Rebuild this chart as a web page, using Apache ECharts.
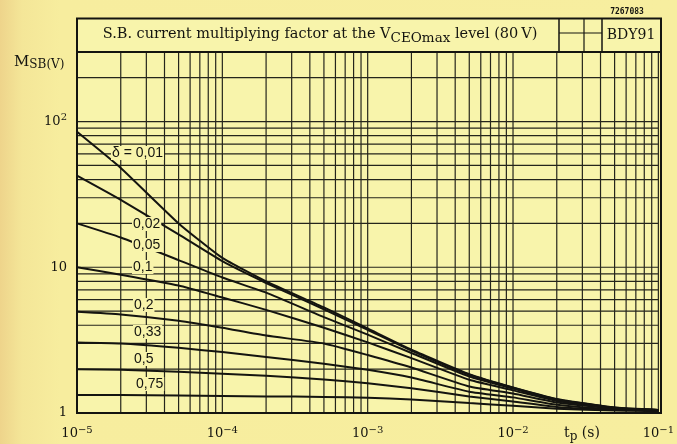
<!DOCTYPE html>
<html>
<head>
<meta charset="utf-8">
<script src="https://cdn.jsdelivr.net/npm/echarts@6/dist/echarts.min.js"></script>
<style>
html, body { margin: 0; padding: 0; }
body { background: linear-gradient(to right, #eed48b 0px, #f4e698 22px, #f7ed9e 60px, #f7ee9f 100%); }
#main { width: 677px; height: 444px; }
</style>
</head>
<body>
<div id="main"></div>
<script>
// pulse duration t_p (s)
var tp = [1e-5, 2e-5, 5e-5, 1e-4, 2e-4, 5e-4, 1e-3, 2e-3, 5e-3, 1e-2, 2e-2, 5e-2, 1e-1];

// M_SB(V) for each duty factor delta
var m001 = [85, 48, 20, 11.6, 8.0, 5.3, 3.8, 2.72, 1.85, 1.5, 1.25, 1.09, 1.05];
var m002 = [42.5, 29, 16.8, 11.0, 7.8, 5.15, 3.72, 2.68, 1.83, 1.49, 1.24, 1.09, 1.05];
var m005 = [20, 16, 11.2, 8.5, 6.7, 4.55, 3.45, 2.58, 1.78, 1.47, 1.23, 1.08, 1.05];
var m01 = [10, 8.9, 7.5, 6.2, 5.1, 3.85, 3.05, 2.38, 1.69, 1.43, 1.21, 1.08, 1.05];
var m02 = [4.95, 4.75, 4.3, 3.85, 3.4, 3.0, 2.5, 2.05, 1.52, 1.36, 1.18, 1.07, 1.05];
var m033 = [3.05, 3.0, 2.8, 2.62, 2.42, 2.18, 1.98, 1.75, 1.4, 1.28, 1.14, 1.06, 1.04];
var m05 = [2.0, 1.98, 1.92, 1.86, 1.8, 1.7, 1.6, 1.48, 1.3, 1.2, 1.1, 1.05, 1.04];
var m075 = [1.33, 1.33, 1.32, 1.31, 1.3, 1.29, 1.27, 1.24, 1.17, 1.12, 1.07, 1.04, 1.03];

var curves = [m001, m002, m005, m01, m02, m033, m05, m075];
var curveLabels = ['\u03b4 = 0,01', '0,02', '0,05', '0,1', '0,2', '0,33', '0,5', '0,75'];

// grid lines (log paper)
var mantissa = [1, 2, 3, 4, 5, 6, 7, 8, 9];
var xDecades = [-5, -4, -3, -2];
var yDecades = [0, 1];
var yTop = [100, 200, 300];

var plotBg = '#f8f4ab';
var ink = '#141410';

var xGrid = [];
xDecades.forEach(function (e) {
    mantissa.forEach(function (m) { xGrid.push(m * Math.pow(10, e)); });
});
xGrid.push(1e-1);
var yGrid = [];
yDecades.forEach(function (e) {
    mantissa.forEach(function (m) { yGrid.push(m * Math.pow(10, e)); });
});
yGrid = yGrid.concat(yTop);

var myChart = echarts.init(document.getElementById('main'));

var series = curves.map(function (c, i) {
    return {
        name: curveLabels[i],
        type: 'line',
        data: tp.map(function (t, k) { return [t, c[k]]; }),
        showSymbol: false,
        smooth: 0.15,
        lineStyle: { color: ink, width: 2 },
        z: 5
    };
});

// log paper, drawn as broken line segments through the axes
var gridData = [];
xGrid.forEach(function (v) {
    gridData.push([v, 1], [v, 300], [v, '-']);
});
yGrid.forEach(function (v) {
    gridData.push([1e-5, v], [1e-1, v], [1e-1, '-']);
});
series.unshift({
    type: 'line',
    data: gridData,
    silent: true,
    showSymbol: false,
    connectNulls: false,
    lineStyle: { color: '#25251c', width: 1.2 },
    z: 1
});

var labelPos = [[111, 153], [132, 224], [132, 245], [132, 267], [133, 305], [133, 332], [133, 359], [135, 384]];

var graphics = curveLabels.map(function (txt, i) {
    return {
        type: 'text',
        x: labelPos[i][0],
        y: labelPos[i][1],
        z: 100,
        style: {
            text: txt,
            font: '14px "Liberation Sans"',
            fill: ink,
            verticalAlign: 'middle',
            align: 'left',
            backgroundColor: plotBg,
            padding: [0, 1]
        }
    };
});

graphics = graphics.concat([
    // header box
    { type: 'rect', z: 90, shape: { x: 77, y: 18.5, width: 584, height: 33.5 },
      style: { fill: plotBg, stroke: ink, lineWidth: 2 } },
    { type: 'line', z: 91, shape: { x1: 559, y1: 18.5, x2: 559, y2: 52 }, style: { stroke: ink, lineWidth: 1.5 } },
    { type: 'line', z: 91, shape: { x1: 584, y1: 18.5, x2: 584, y2: 52 }, style: { stroke: ink, lineWidth: 1.2 } },
    { type: 'line', z: 91, shape: { x1: 602, y1: 18.5, x2: 602, y2: 52 }, style: { stroke: ink, lineWidth: 1.5 } },
    { type: 'line', z: 91, shape: { x1: 559, y1: 33, x2: 602, y2: 33 }, style: { stroke: ink, lineWidth: 1.2 } },
    // plot frame
    { type: 'rect', z: 92, shape: { x: 77, y: 52, width: 584, height: 361 },
      style: { fill: 'none', stroke: ink, lineWidth: 2 } },
    {
        type: 'text', z: 95, x: 320, y: 34,
        style: {
            text: 'S.B. current multiplying factor at the V{sub|CEOmax} level (80\u2009V)',
            font: '14.5px "DejaVu Serif"', fill: ink, align: 'center', verticalAlign: 'middle',
            rich: { sub: { font: '13.5px "DejaVu Serif"', fill: ink, padding: [9, 0, 0, 0] } }
        }
    },
    {
        type: 'text', z: 95, x: 631, y: 35,
        style: { text: 'BDY91', font: '14px "DejaVu Serif"', fill: ink, align: 'center', verticalAlign: 'middle' }
    },
    {
        type: 'text', z: 95, x: 627, y: 12,
        style: { text: '7267083', font: 'bold 8px "DejaVu Sans Mono"', fill: ink, align: 'center', verticalAlign: 'middle' }
    },
    {
        type: 'text', z: 95, x: 14, y: 62,
        style: {
            text: 'M{sub|SB(V)}',
            font: '15px "DejaVu Serif"', fill: ink, align: 'left', verticalAlign: 'middle',
            rich: { sub: { font: '12px "DejaVu Serif"', fill: ink, padding: [6, 0, 0, 0] } }
        }
    },
    {
        type: 'text', z: 95, x: 582, y: 433,
        style: {
            text: 't{sub|p} (s)',
            font: '14px "DejaVu Serif"', fill: ink, align: 'center', verticalAlign: 'middle',
            rich: { sub: { font: '12px "DejaVu Serif"', fill: ink, padding: [7, 0, 0, 0] } }
        }
    }
]);

var option = {
    animation: false,
    grid: { left: 77, right: 16, top: 52, bottom: 31, show: true, backgroundColor: plotBg, borderWidth: 0 },
    xAxis: {
        type: 'log', logBase: 10, min: 1e-5, max: 1e-1,
        axisLine: { show: false }, axisTick: { show: false }, splitLine: { show: false },
        axisLabel: {
            margin: 12,
            color: ink,
            fontFamily: 'DejaVu Serif',
            fontSize: 13,
            formatter: function (v) {
                var e = Math.round(Math.log10(v));
                return '10{sup|\u2212' + Math.abs(e) + '}';
            },
            rich: { sup: { fontSize: 10, fontFamily: 'DejaVu Serif', color: ink, padding: [0, 0, 8, 0] } }
        }
    },
    yAxis: {
        type: 'log', logBase: 10, min: 1, max: 300,
        axisLine: { show: false }, axisTick: { show: false }, splitLine: { show: false },
        axisLabel: {
            margin: 10,
            color: ink,
            fontFamily: 'DejaVu Serif',
            fontSize: 13,
            formatter: function (v) {
                if (Math.abs(v - 1) < 1e-6) return '1';
                if (Math.abs(v - 10) < 1e-6) return '10';
                if (Math.abs(v - 100) < 1e-6) return '10{sup|2}';
                return '';
            },
            rich: { sup: { fontSize: 10, fontFamily: 'DejaVu Serif', color: ink, padding: [0, 0, 8, 0] } }
        }
    },
    graphic: graphics,
    series: series
};

myChart.setOption(option);

window.addEventListener('resize', function () {
    myChart.resize();
});
</script>
</body>
</html>
